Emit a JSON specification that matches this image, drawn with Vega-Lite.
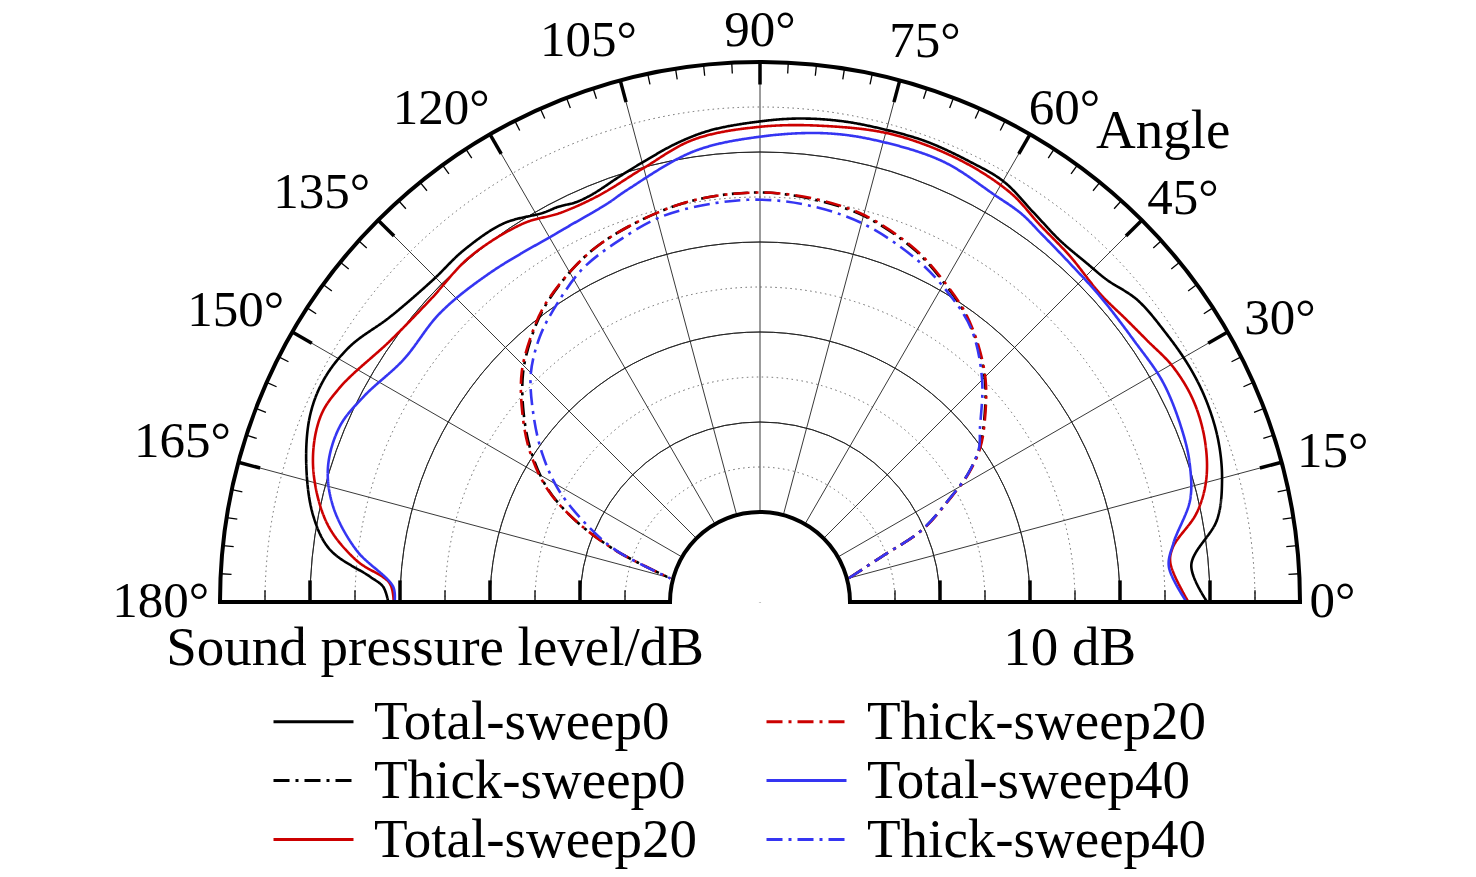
{
  "$schema": "https://vega.github.io/schema/vega-lite/v6.json",
  "width": 1080,
  "height": 540,
  "autosize": {"type": "none"},
  "padding": {"left": 220, "top": 62, "right": 176, "bottom": 275},
  "background": "white",
  "config": {"view": {"stroke": null}, "text": {"font": "Liberation Serif"}},
  "datasets": {
    "curves": [
      {"series": "Total-sweep0", "angle": 0, "level": 49.7},
      {"series": "Total-sweep0", "angle": 4.9, "level": 48.1},
      {"series": "Total-sweep0", "angle": 10.2, "level": 51.6},
      {"series": "Total-sweep0", "angle": 14.8, "level": 53.1},
      {"series": "Total-sweep0", "angle": 19.5, "level": 54.0},
      {"series": "Total-sweep0", "angle": 24.3, "level": 54.4},
      {"series": "Total-sweep0", "angle": 28.7, "level": 54.4},
      {"series": "Total-sweep0", "angle": 33.5, "level": 54.1},
      {"series": "Total-sweep0", "angle": 38.7, "level": 53.7},
      {"series": "Total-sweep0", "angle": 42.9, "level": 52.6},
      {"series": "Total-sweep0", "angle": 46, "level": 52.3},
      {"series": "Total-sweep0", "angle": 50.3, "level": 52.2},
      {"series": "Total-sweep0", "angle": 55, "level": 52.9},
      {"series": "Total-sweep0", "angle": 59.9, "level": 54.0},
      {"series": "Total-sweep0", "angle": 64.5, "level": 54.2},
      {"series": "Total-sweep0", "angle": 70.1, "level": 54.4},
      {"series": "Total-sweep0", "angle": 75, "level": 54.3},
      {"series": "Total-sweep0", "angle": 80.2, "level": 54.2},
      {"series": "Total-sweep0", "angle": 85.3, "level": 53.9},
      {"series": "Total-sweep0", "angle": 90, "level": 53.4},
      {"series": "Total-sweep0", "angle": 96, "level": 52.7},
      {"series": "Total-sweep0", "angle": 100.3, "level": 51.8},
      {"series": "Total-sweep0", "angle": 104.8, "level": 50.6},
      {"series": "Total-sweep0", "angle": 108.2, "level": 49.8},
      {"series": "Total-sweep0", "angle": 112.2, "level": 49.0},
      {"series": "Total-sweep0", "angle": 114.7, "level": 48.9},
      {"series": "Total-sweep0", "angle": 117, "level": 49.3},
      {"series": "Total-sweep0", "angle": 119.1, "level": 49.5},
      {"series": "Total-sweep0", "angle": 124.1, "level": 50.8},
      {"series": "Total-sweep0", "angle": 130.1, "level": 51.1},
      {"series": "Total-sweep0", "angle": 135.4, "level": 51.0},
      {"series": "Total-sweep0", "angle": 142.4, "level": 51.9},
      {"series": "Total-sweep0", "angle": 148.1, "level": 53.7},
      {"series": "Total-sweep0", "angle": 153, "level": 54.4},
      {"series": "Total-sweep0", "angle": 157.6, "level": 54.1},
      {"series": "Total-sweep0", "angle": 163.4, "level": 52.6},
      {"series": "Total-sweep0", "angle": 169.2, "level": 50.5},
      {"series": "Total-sweep0", "angle": 173.1, "level": 48.1},
      {"series": "Total-sweep0", "angle": 176.3, "level": 43.4},
      {"series": "Total-sweep0", "angle": 177.7, "level": 41.9},
      {"series": "Total-sweep0", "angle": 180, "level": 41.3},

      {"series": "Total-sweep20", "angle": 0, "level": 47.6},
      {"series": "Total-sweep20", "angle": 5.4, "level": 45.8},
      {"series": "Total-sweep20", "angle": 7.6, "level": 46.3},
      {"series": "Total-sweep20", "angle": 11.5, "level": 49.5},
      {"series": "Total-sweep20", "angle": 15.3, "level": 51.4},
      {"series": "Total-sweep20", "angle": 20, "level": 52.6},
      {"series": "Total-sweep20", "angle": 25, "level": 53.1},
      {"series": "Total-sweep20", "angle": 29.7, "level": 52.8},
      {"series": "Total-sweep20", "angle": 34.1, "level": 51.9},
      {"series": "Total-sweep20", "angle": 37.6, "level": 51.4},
      {"series": "Total-sweep20", "angle": 42.2, "level": 51.0},
      {"series": "Total-sweep20", "angle": 48.1, "level": 51.6},
      {"series": "Total-sweep20", "angle": 53.5, "level": 52.2},
      {"series": "Total-sweep20", "angle": 58.5, "level": 53.3},
      {"series": "Total-sweep20", "angle": 65.7, "level": 53.9},
      {"series": "Total-sweep20", "angle": 74.1, "level": 54.0},
      {"series": "Total-sweep20", "angle": 82, "level": 53.4},
      {"series": "Total-sweep20", "angle": 90, "level": 52.8},
      {"series": "Total-sweep20", "angle": 98.2, "level": 51.9},
      {"series": "Total-sweep20", "angle": 105.1, "level": 49.9},
      {"series": "Total-sweep20", "angle": 111.5, "level": 48.6},
      {"series": "Total-sweep20", "angle": 117.2, "level": 48.6},
      {"series": "Total-sweep20", "angle": 122, "level": 49.6},
      {"series": "Total-sweep20", "angle": 130, "level": 50.1},
      {"series": "Total-sweep20", "angle": 137.5, "level": 49.7},
      {"series": "Total-sweep20", "angle": 144.7, "level": 50.3},
      {"series": "Total-sweep20", "angle": 152.9, "level": 52.4},
      {"series": "Total-sweep20", "angle": 157.2, "level": 53.0},
      {"series": "Total-sweep20", "angle": 163.1, "level": 51.9},
      {"series": "Total-sweep20", "angle": 169.7, "level": 48.9},
      {"series": "Total-sweep20", "angle": 174.1, "level": 45.1},
      {"series": "Total-sweep20", "angle": 177.1, "level": 41.2},
      {"series": "Total-sweep20", "angle": 180, "level": 40.7},

      {"series": "Total-sweep40", "angle": 0, "level": 47.4},
      {"series": "Total-sweep40", "angle": 4.9, "level": 45.6},
      {"series": "Total-sweep40", "angle": 8.1, "level": 46.4},
      {"series": "Total-sweep40", "angle": 13.3, "level": 49.1},
      {"series": "Total-sweep40", "angle": 17.5, "level": 50.1},
      {"series": "Total-sweep40", "angle": 21.7, "level": 50.6},
      {"series": "Total-sweep40", "angle": 28.5, "level": 51.0},
      {"series": "Total-sweep40", "angle": 35.1, "level": 50.7},
      {"series": "Total-sweep40", "angle": 41.9, "level": 50.8},
      {"series": "Total-sweep40", "angle": 47.5, "level": 51.0},
      {"series": "Total-sweep40", "angle": 52.7, "level": 51.5},
      {"series": "Total-sweep40", "angle": 56, "level": 52.0},
      {"series": "Total-sweep40", "angle": 60, "level": 52.2},
      {"series": "Total-sweep40", "angle": 67.4, "level": 53.0},
      {"series": "Total-sweep40", "angle": 75.4, "level": 52.9},
      {"series": "Total-sweep40", "angle": 81.9, "level": 52.6},
      {"series": "Total-sweep40", "angle": 90, "level": 51.7},
      {"series": "Total-sweep40", "angle": 98.4, "level": 50.6},
      {"series": "Total-sweep40", "angle": 107.9, "level": 48.1},
      {"series": "Total-sweep40", "angle": 111, "level": 47.4},
      {"series": "Total-sweep40", "angle": 118.6, "level": 46.8},
      {"series": "Total-sweep40", "angle": 129.4, "level": 47.3},
      {"series": "Total-sweep40", "angle": 137.9, "level": 47.9},
      {"series": "Total-sweep40", "angle": 145.8, "level": 47.9},
      {"series": "Total-sweep40", "angle": 152.6, "level": 49.6},
      {"series": "Total-sweep40", "angle": 157.3, "level": 50.6},
      {"series": "Total-sweep40", "angle": 162.6, "level": 50.3},
      {"series": "Total-sweep40", "angle": 167.4, "level": 48.6},
      {"series": "Total-sweep40", "angle": 172.7, "level": 45.2},
      {"series": "Total-sweep40", "angle": 177.6, "level": 40.8},
      {"series": "Total-sweep40", "angle": 180, "level": 40.6},

      {"series": "Thick-sweep0", "angle": 15, "level": 10.2},
      {"series": "Thick-sweep0", "angle": 20.4, "level": 14.4},
      {"series": "Thick-sweep0", "angle": 24, "level": 19.7},
      {"series": "Thick-sweep0", "angle": 28.4, "level": 23.8},
      {"series": "Thick-sweep0", "angle": 31.7, "level": 27.2},
      {"series": "Thick-sweep0", "angle": 35.2, "level": 29.9},
      {"series": "Thick-sweep0", "angle": 40, "level": 32.6},
      {"series": "Thick-sweep0", "angle": 44.6, "level": 35.1},
      {"series": "Thick-sweep0", "angle": 49.5, "level": 37.3},
      {"series": "Thick-sweep0", "angle": 54.6, "level": 39.3},
      {"series": "Thick-sweep0", "angle": 59.9, "level": 40.9},
      {"series": "Thick-sweep0", "angle": 66.2, "level": 42.7},
      {"series": "Thick-sweep0", "angle": 74.8, "level": 44.4},
      {"series": "Thick-sweep0", "angle": 82.2, "level": 45.1},
      {"series": "Thick-sweep0", "angle": 89.8, "level": 45.5},
      {"series": "Thick-sweep0", "angle": 98.2, "level": 45.3},
      {"series": "Thick-sweep0", "angle": 105.1, "level": 44.7},
      {"series": "Thick-sweep0", "angle": 113.8, "level": 43.6},
      {"series": "Thick-sweep0", "angle": 119.6, "level": 42.4},
      {"series": "Thick-sweep0", "angle": 126.1, "level": 40.6},
      {"series": "Thick-sweep0", "angle": 130.7, "level": 38.9},
      {"series": "Thick-sweep0", "angle": 136, "level": 36.6},
      {"series": "Thick-sweep0", "angle": 141.4, "level": 33.6},
      {"series": "Thick-sweep0", "angle": 146.9, "level": 30.3},
      {"series": "Thick-sweep0", "angle": 152.1, "level": 26.6},
      {"series": "Thick-sweep0", "angle": 156.1, "level": 22.5},
      {"series": "Thick-sweep0", "angle": 160.3, "level": 17.1},
      {"series": "Thick-sweep0", "angle": 165.2, "level": 10.3},

      {"series": "Thick-sweep20", "angle": 15, "level": 10.2},
      {"series": "Thick-sweep20", "angle": 20.4, "level": 14.4},
      {"series": "Thick-sweep20", "angle": 24, "level": 19.8},
      {"series": "Thick-sweep20", "angle": 28.4, "level": 23.9},
      {"series": "Thick-sweep20", "angle": 31.7, "level": 27.3},
      {"series": "Thick-sweep20", "angle": 35.2, "level": 30.0},
      {"series": "Thick-sweep20", "angle": 40, "level": 32.7},
      {"series": "Thick-sweep20", "angle": 44.6, "level": 35.2},
      {"series": "Thick-sweep20", "angle": 49.5, "level": 37.4},
      {"series": "Thick-sweep20", "angle": 54.6, "level": 39.4},
      {"series": "Thick-sweep20", "angle": 59.9, "level": 41.0},
      {"series": "Thick-sweep20", "angle": 66.2, "level": 42.8},
      {"series": "Thick-sweep20", "angle": 74.8, "level": 44.5},
      {"series": "Thick-sweep20", "angle": 82.2, "level": 45.2},
      {"series": "Thick-sweep20", "angle": 89.8, "level": 45.5},
      {"series": "Thick-sweep20", "angle": 98.2, "level": 45.3},
      {"series": "Thick-sweep20", "angle": 105.1, "level": 44.7},
      {"series": "Thick-sweep20", "angle": 113.8, "level": 43.6},
      {"series": "Thick-sweep20", "angle": 119.6, "level": 42.4},
      {"series": "Thick-sweep20", "angle": 126.1, "level": 40.7},
      {"series": "Thick-sweep20", "angle": 130.7, "level": 39.0},
      {"series": "Thick-sweep20", "angle": 136, "level": 36.8},
      {"series": "Thick-sweep20", "angle": 141.4, "level": 33.8},
      {"series": "Thick-sweep20", "angle": 146.9, "level": 30.5},
      {"series": "Thick-sweep20", "angle": 152.1, "level": 26.7},
      {"series": "Thick-sweep20", "angle": 156.1, "level": 22.5},
      {"series": "Thick-sweep20", "angle": 160.3, "level": 17.1},
      {"series": "Thick-sweep20", "angle": 165.2, "level": 10.3},

      {"series": "Thick-sweep40", "angle": 15, "level": 10.2},
      {"series": "Thick-sweep40", "angle": 20.4, "level": 14.4},
      {"series": "Thick-sweep40", "angle": 24, "level": 19.7},
      {"series": "Thick-sweep40", "angle": 28.4, "level": 23.8},
      {"series": "Thick-sweep40", "angle": 31.7, "level": 27.2},
      {"series": "Thick-sweep40", "angle": 35.2, "level": 29.8},
      {"series": "Thick-sweep40", "angle": 38, "level": 31.0},
      {"series": "Thick-sweep40", "angle": 45, "level": 34.9},
      {"series": "Thick-sweep40", "angle": 52.1, "level": 38.3},
      {"series": "Thick-sweep40", "angle": 58.6, "level": 40.2},
      {"series": "Thick-sweep40", "angle": 65.7, "level": 41.9},
      {"series": "Thick-sweep40", "angle": 75, "level": 43.6},
      {"series": "Thick-sweep40", "angle": 83.1, "level": 44.4},
      {"series": "Thick-sweep40", "angle": 89.8, "level": 44.7},
      {"series": "Thick-sweep40", "angle": 96.4, "level": 44.6},
      {"series": "Thick-sweep40", "angle": 104.3, "level": 44.2},
      {"series": "Thick-sweep40", "angle": 112, "level": 43.0},
      {"series": "Thick-sweep40", "angle": 118.2, "level": 41.9},
      {"series": "Thick-sweep40", "angle": 124.8, "level": 39.9},
      {"series": "Thick-sweep40", "angle": 129.7, "level": 38.3},
      {"series": "Thick-sweep40", "angle": 135, "level": 36.0},
      {"series": "Thick-sweep40", "angle": 140.2, "level": 32.8},
      {"series": "Thick-sweep40", "angle": 145.7, "level": 29.3},
      {"series": "Thick-sweep40", "angle": 150.9, "level": 25.6},
      {"series": "Thick-sweep40", "angle": 156.3, "level": 20.8},
      {"series": "Thick-sweep40", "angle": 160.5, "level": 16.7},
      {"series": "Thick-sweep40", "angle": 165.2, "level": 10.3}
    ],
    "levels": [
      {"level": 10}, {"level": 15}, {"level": 20}, {"level": 25}, {"level": 30}, {"level": 35},
      {"level": 40}, {"level": 45}, {"level": 50}, {"level": 55}, {"level": 60}
    ],
    "deg3": [
      {"angle": 0}, {"angle": 3}, {"angle": 6}, {"angle": 9}, {"angle": 12}, {"angle": 15},
      {"angle": 18}, {"angle": 21}, {"angle": 24}, {"angle": 27}, {"angle": 30}, {"angle": 33},
      {"angle": 36}, {"angle": 39}, {"angle": 42}, {"angle": 45}, {"angle": 48}, {"angle": 51},
      {"angle": 54}, {"angle": 57}, {"angle": 60}, {"angle": 63}, {"angle": 66}, {"angle": 69},
      {"angle": 72}, {"angle": 75}, {"angle": 78}, {"angle": 81}, {"angle": 84}, {"angle": 87},
      {"angle": 90}, {"angle": 93}, {"angle": 96}, {"angle": 99}, {"angle": 102}, {"angle": 105},
      {"angle": 108}, {"angle": 111}, {"angle": 114}, {"angle": 117}, {"angle": 120}, {"angle": 123},
      {"angle": 126}, {"angle": 129}, {"angle": 132}, {"angle": 135}, {"angle": 138}, {"angle": 141},
      {"angle": 144}, {"angle": 147}, {"angle": 150}, {"angle": 153}, {"angle": 156}, {"angle": 159},
      {"angle": 162}, {"angle": 165}, {"angle": 168}, {"angle": 171}, {"angle": 174}, {"angle": 177},
      {"angle": 180}
    ],
    "notes": [
      {"note": "Sound pressure level/dB"},
      {"note": "10 dB"},
      {"note": "Angle"}
    ]
  },
  "layer": [
    {
      "data": {"name": "levels"},
      "transform": [{"filter": "datum.level % 10 == 5"}],
      "mark": {"type": "arc", "filled": false, "stroke": "#666666", "strokeWidth": 1, "strokeDash": [1.5, 3.5], "theta": -1.5708, "theta2": 1.5708},
      "encoding": {
        "x": {"datum": 0, "type": "quantitative", "scale": {"domain": [-60, 60], "nice": false, "zero": false}, "axis": null},
        "y": {"datum": 0, "type": "quantitative", "scale": {"domain": [0, 60], "nice": false, "zero": false}, "axis": null},
        "radius": {"field": "level", "type": "quantitative", "stack": null, "scale": {"type": "linear", "domain": [0, 60], "range": [0, 540], "nice": false, "zero": true}}
      }
    },
    {
      "data": {"name": "levels"},
      "transform": [{"filter": "datum.level % 10 == 0 && datum.level > 10 && datum.level < 60"}],
      "mark": {"type": "arc", "filled": false, "stroke": "#222222", "strokeWidth": 0.9, "theta": -1.5708, "theta2": 1.5708},
      "encoding": {
        "x": {"datum": 0, "type": "quantitative"},
        "y": {"datum": 0, "type": "quantitative"},
        "radius": {"field": "level", "type": "quantitative", "stack": null},
        "radius2": {"field": "level"}
      }
    },
    {
      "data": {"name": "deg3"},
      "transform": [
        {"filter": "datum.angle % 15 == 0 && datum.angle > 0 && datum.angle < 180"},
        {"calculate": "10*cos(datum.angle*PI/180)", "as": "x1"},
        {"calculate": "10*sin(datum.angle*PI/180)", "as": "y1"},
        {"calculate": "60*cos(datum.angle*PI/180)", "as": "x2"},
        {"calculate": "60*sin(datum.angle*PI/180)", "as": "y2"}
      ],
      "mark": {"type": "rule", "stroke": "#222222", "strokeWidth": 0.9},
      "encoding": {
        "x": {"field": "x1", "type": "quantitative"},
        "y": {"field": "y1", "type": "quantitative"},
        "x2": {"field": "x2"},
        "y2": {"field": "y2"}
      }
    },
    {
      "data": {"name": "levels"},
      "transform": [{"filter": "datum.level == 10"}],
      "mark": {"type": "arc", "fill": "white", "stroke": null, "theta": -2.2, "theta2": 2.2},
      "encoding": {
        "x": {"datum": 0, "type": "quantitative"},
        "y": {"datum": 0, "type": "quantitative"},
        "radius": {"field": "level", "type": "quantitative", "stack": null}
      }
    },
    {
      "data": {"name": "curves"},
      "transform": [
        {"calculate": "datum.level*cos(datum.angle*PI/180)", "as": "px"},
        {"calculate": "datum.level*sin(datum.angle*PI/180)", "as": "py"}
      ],
      "mark": {"type": "line", "strokeWidth": 2.6, "interpolate": "catmull-rom"},
      "encoding": {
        "x": {"field": "px", "type": "quantitative"},
        "y": {"field": "py", "type": "quantitative"},
        "order": {"field": "angle", "type": "quantitative"},
        "color": {
          "field": "series", "type": "nominal",
          "scale": {
            "domain": ["Total-sweep0", "Thick-sweep0", "Total-sweep20", "Thick-sweep20", "Total-sweep40", "Thick-sweep40"],
            "range": ["#000000", "#000000", "#cc0000", "#cc0000", "#3535f2", "#3535f2"]
          },
          "legend": {
            "orient": "none", "legendX": 66, "legendY": 632, "columns": 2, "title": null, "padding": 0,
            "symbolType": "M-3,0H3", "symbolSize": 711, "symbolStrokeWidth": 3,
            "labelFont": "Liberation Serif", "labelFontSize": 55, "labelColor": "#000000",
            "labelOffset": 33, "labelLimit": 1000, "columnPadding": 63, "rowPadding": 3
          }
        },
        "strokeDash": {
          "field": "series", "type": "nominal",
          "scale": {
            "domain": ["Total-sweep0", "Thick-sweep0", "Total-sweep20", "Thick-sweep20", "Total-sweep40", "Thick-sweep40"],
            "range": [[1, 0], [16, 6, 3, 6], [1, 0], [16, 6, 3, 6], [1, 0], [16, 6, 3, 6]]
          },
          "legend": {
            "orient": "none", "legendX": 66, "legendY": 632, "columns": 2, "title": null, "padding": 0,
            "symbolType": "M-3,0H3", "symbolSize": 711, "symbolStrokeWidth": 3,
            "labelFont": "Liberation Serif", "labelFontSize": 55, "labelColor": "#000000",
            "labelOffset": 33, "labelLimit": 1000, "columnPadding": 63, "rowPadding": 3
          }
        }
      }
    },
    {
      "data": {"name": "levels"},
      "transform": [{"filter": "datum.level == 10 || datum.level == 60"}],
      "mark": {"type": "arc", "filled": false, "stroke": "#000000", "strokeWidth": 4, "theta": -1.5708, "theta2": 1.5708},
      "encoding": {
        "x": {"datum": 0, "type": "quantitative"},
        "y": {"datum": 0, "type": "quantitative"},
        "radius": {"field": "level", "type": "quantitative", "stack": null},
        "radius2": {"field": "level"}
      }
    },
    {
      "data": {"name": "levels"},
      "transform": [
        {"filter": "datum.level == 10"},
        {"calculate": "datum.level", "as": "right"},
        {"calculate": "-datum.level", "as": "left"},
        {"fold": ["right", "left"], "as": ["side", "xv"]},
        {"calculate": "datum.xv*6", "as": "xe"}
      ],
      "mark": {"type": "rule", "stroke": "#000000", "strokeWidth": 4, "strokeCap": "square"},
      "encoding": {
        "x": {"field": "xv", "type": "quantitative"},
        "x2": {"field": "xe"},
        "y": {"datum": 0, "type": "quantitative"}
      }
    },
    {
      "data": {"name": "levels"},
      "transform": [
        {"filter": "datum.level % 10 == 0 && datum.level > 10 && datum.level < 60"},
        {"calculate": "datum.level", "as": "right"},
        {"calculate": "-datum.level", "as": "left"},
        {"fold": ["right", "left"], "as": ["side", "xv"]}
      ],
      "mark": {"type": "rule", "stroke": "#000000", "strokeWidth": 3.5},
      "encoding": {
        "x": {"field": "xv", "type": "quantitative"},
        "y": {"datum": 0, "type": "quantitative"},
        "y2": {"datum": 2.4}
      }
    },
    {
      "data": {"name": "levels"},
      "transform": [
        {"filter": "datum.level % 10 == 5"},
        {"calculate": "datum.level", "as": "right"},
        {"calculate": "-datum.level", "as": "left"},
        {"fold": ["right", "left"], "as": ["side", "xv"]}
      ],
      "mark": {"type": "rule", "stroke": "#000000", "strokeWidth": 1.3},
      "encoding": {
        "x": {"field": "xv", "type": "quantitative"},
        "y": {"datum": 0, "type": "quantitative"},
        "y2": {"datum": 1.3}
      }
    },
    {
      "data": {"name": "deg3"},
      "transform": [
        {"filter": "datum.angle % 15 != 0"},
        {"calculate": "60*cos(datum.angle*PI/180)", "as": "x1"},
        {"calculate": "60*sin(datum.angle*PI/180)", "as": "y1"},
        {"calculate": "58.8*cos(datum.angle*PI/180)", "as": "x2"},
        {"calculate": "58.8*sin(datum.angle*PI/180)", "as": "y2"}
      ],
      "mark": {"type": "rule", "stroke": "#000000", "strokeWidth": 1.3},
      "encoding": {
        "x": {"field": "x1", "type": "quantitative"},
        "y": {"field": "y1", "type": "quantitative"},
        "x2": {"field": "x2"},
        "y2": {"field": "y2"}
      }
    },
    {
      "data": {"name": "deg3"},
      "transform": [
        {"filter": "datum.angle % 15 == 0 && datum.angle > 0 && datum.angle < 180"},
        {"calculate": "60*cos(datum.angle*PI/180)", "as": "x1"},
        {"calculate": "60*sin(datum.angle*PI/180)", "as": "y1"},
        {"calculate": "57.5*cos(datum.angle*PI/180)", "as": "x2"},
        {"calculate": "57.5*sin(datum.angle*PI/180)", "as": "y2"}
      ],
      "mark": {"type": "rule", "stroke": "#000000", "strokeWidth": 3.5},
      "encoding": {
        "x": {"field": "x1", "type": "quantitative"},
        "y": {"field": "y1", "type": "quantitative"},
        "x2": {"field": "x2"},
        "y2": {"field": "y2"}
      }
    },
    {
      "data": {"name": "deg3"},
      "transform": [
        {"filter": "datum.angle % 15 == 0"},
        {"calculate": "datum.angle == 0 ? 63.6 : datum.angle == 90 ? 63.4 : datum.angle == 60 ? 64.4 : datum.angle < 90 ? (datum.angle <= 30 ? 65.8 : 64.9) : datum.angle <= 120 ? 65.2 : 66.6", "as": "lr"},
        {"calculate": "datum.angle == 15 ? 14.7 : datum.angle == 60 ? 58.3 : datum.angle == 150 ? 151 : datum.angle == 165 ? 164.5 : datum.angle == 120 ? 122.9 : datum.angle == 0 || datum.angle == 90 || datum.angle == 180 ? datum.angle : (datum.angle < 90 ? datum.angle - 1.4 : datum.angle + 2)", "as": "la"},
        {"calculate": "datum.lr*cos(datum.la*PI/180)", "as": "lx"},
        {"calculate": "datum.lr*sin(datum.la*PI/180)", "as": "ly"},
        {"calculate": "datum.angle + '°'", "as": "label"}
      ],
      "mark": {"type": "text", "font": "Liberation Serif", "fontSize": 51, "color": "#000000", "align": "center", "baseline": "middle"},
      "encoding": {
        "x": {"field": "lx", "type": "quantitative"},
        "y": {"field": "ly", "type": "quantitative"},
        "text": {"field": "label"}
      }
    },
    {
      "data": {"name": "notes"},
      "transform": [{"filter": "datum.note == 'Sound pressure level/dB'"}],
      "mark": {"type": "text", "font": "Liberation Serif", "fontSize": 55, "color": "#000000", "align": "center", "baseline": "alphabetic"},
      "encoding": {
        "x": {"datum": -36.1, "type": "quantitative"},
        "y": {"datum": -7.0, "type": "quantitative"},
        "text": {"field": "note"}
      }
    },
    {
      "data": {"name": "notes"},
      "transform": [{"filter": "datum.note == '10 dB'"}],
      "mark": {"type": "text", "font": "Liberation Serif", "fontSize": 55, "color": "#000000", "align": "center", "baseline": "alphabetic"},
      "encoding": {
        "x": {"datum": 34.4, "type": "quantitative"},
        "y": {"datum": -7.0, "type": "quantitative"},
        "text": {"field": "note"}
      }
    },
    {
      "data": {"name": "notes"},
      "transform": [{"filter": "datum.note == 'Angle'"}],
      "mark": {"type": "text", "font": "Liberation Serif", "fontSize": 55, "color": "#000000", "align": "center", "baseline": "alphabetic"},
      "encoding": {
        "x": {"datum": 44.8, "type": "quantitative"},
        "y": {"datum": 50.4, "type": "quantitative"},
        "text": {"field": "note"}
      }
    }
  ]
}
